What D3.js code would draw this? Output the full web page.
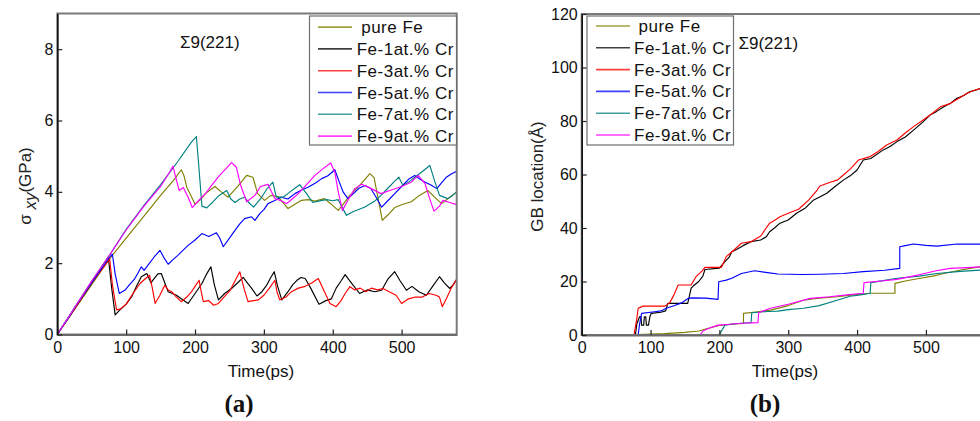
<!DOCTYPE html>
<html><head><meta charset="utf-8">
<script src="https://cdn.jsdelivr.net/npm/d3@7"></script>
<style>
body{margin:0;background:#fff;}
svg{display:block;font-family:"Liberation Sans",Arial,sans-serif;}
</style></head><body>
<svg id="chart" width="980" height="421"></svg>
<script>
// ---------- data ----------
const seriesNames = ["pure Fe","Fe-1at.% Cr","Fe-3at.% Cr","Fe-5at.% Cr","Fe-7at.% Cr","Fe-9at.% Cr"];
const seriesColors = ["#808000","#000000","#ff0000","#0000ff","#008080","#ff00ff"];
const timeTicks = [0,100,200,300,400,500];
const stressTicks = [0,2,4,6,8];
const gbTicks = [0,20,40,60,80,100,120];
const panelLabel = "\u03a39(221)";

// panel (a): shear stress (GPa) vs time (ps)
const stressPureFe = [[0,0],[25,0.7],[50,1.4],[75,2.1],[100,2.7],[125,3.3],[150,3.9],[170,4.35],[180,4.62],[184,4.45],[188,4.13],[194,3.9],[200,3.65],[208,3.78],[215,3.95],[229,4.15],[238,4.0],[248,3.85],[262,4.15],[275,4.46],[284,4.41],[291,3.95],[301,3.76],[310,3.9],[320,3.87],[328,3.7],[335,3.53],[345,3.65],[354,3.76],[365,3.78],[374,3.74],[388,3.81],[398,3.65],[408,3.48],[417,3.7],[425,3.9],[440,4.2],[454,4.51],[460,4.4],[466,3.8],[472,3.2],[480,3.35],[490,3.56],[502,3.65],[514,3.72],[526,3.9],[538,4.04],[548,3.85],[558,3.67],[570,3.85],[580,4.0]];
const stressFe1 = [[0,0],[25,0.72],[50,1.45],[74,2.18],[79,1.3],[84,0.55],[91,0.69],[100,0.85],[108,1.06],[115,1.35],[122,1.62],[130,1.71],[136,1.45],[140,1.55],[146,1.7],[151,1.71],[156,1.45],[161,1.2],[167,1.15],[173,1.1],[180,1.0],[190,0.87],[200,1.15],[210,1.43],[217,1.7],[223,1.9],[228,1.4],[234,0.97],[243,1.15],[253,1.29],[262,1.45],[270,1.6],[276,1.45],[282,1.3],[290,1.08],[297,1.2],[304,1.38],[310,1.6],[315,1.76],[320,1.35],[326,0.97],[335,1.2],[342,1.4],[348,1.52],[354,1.6],[360,1.57],[368,1.3],[380,0.85],[390,0.95],[398,1.0],[405,1.3],[412,1.5],[418,1.68],[427,1.45],[439,1.15],[450,1.25],[461,1.2],[471,1.24],[480,1.55],[490,1.76],[498,1.5],[507,1.24],[515,1.35],[525,1.2],[536,1.1],[545,1.35],[555,1.62],[562,1.45],[570,1.29],[575,1.4],[580,1.55]];
const stressFe3 = [[0,0],[25,0.72],[50,1.45],[76,2.12],[80,1.4],[86,0.69],[92,0.72],[100,0.85],[110,1.15],[120,1.43],[127,1.55],[134,1.66],[138,1.3],[142,0.87],[149,1.1],[156,1.38],[161,1.25],[166,1.2],[173,1.05],[180,0.92],[188,1.05],[195,1.2],[200,1.35],[206,1.52],[209,1.2],[212,0.92],[220,0.95],[227,0.82],[234,0.87],[242,1.05],[251,1.24],[258,1.5],[265,1.76],[271,1.3],[277,0.92],[285,0.95],[292,0.97],[300,1.1],[308,1.3],[316,1.52],[319,1.2],[323,0.97],[332,1.05],[340,1.2],[350,1.3],[360,1.35],[370,1.45],[379,1.57],[388,1.2],[396,0.87],[405,0.78],[412,0.95],[418,1.15],[425,1.34],[432,1.25],[440,1.3],[448,1.2],[456,1.3],[465,1.25],[473,1.29],[482,1.2],[492,1.1],[500,0.87],[510,1.0],[520,1.05],[530,1.05],[540,1.15],[550,1.1],[555,1.05],[559,0.78],[565,1.0],[572,1.3],[580,1.55]];
const stressFe5 = [[0,0],[10,0.3],[18,0.52],[25,0.75],[50,1.45],[75,2.15],[80,2.25],[84,1.7],[90,1.15],[98,1.24],[105,1.4],[112,1.55],[118,1.75],[122,1.9],[126,1.8],[132,1.95],[141,2.18],[149,2.36],[155,2.15],[161,1.97],[168,2.1],[175,2.22],[182,2.35],[190,2.5],[200,2.65],[210,2.83],[220,2.75],[231,2.85],[236,2.7],[241,2.46],[250,2.7],[258,2.92],[265,3.1],[272,3.25],[282,3.3],[287,3.2],[294,3.39],[300,3.5],[306,3.67],[315,3.75],[325,3.85],[335,3.8],[345,3.95],[355,4.05],[364,4.13],[375,4.25],[384,4.37],[393,4.45],[403,4.62],[409,4.3],[415,4.0],[422,3.81],[430,3.95],[438,4.1],[447,4.18],[455,4.1],[463,3.85],[471,3.57],[480,3.75],[490,3.95],[500,4.15],[510,4.35],[519,4.46],[527,4.35],[534,4.27],[542,4.2],[551,4.09],[558,4.25],[565,4.41],[572,4.5],[580,4.58]];
const stressFe7 = [[0,0],[25,0.75],[50,1.5],[75,2.2],[100,2.95],[125,3.6],[150,4.2],[175,4.85],[195,5.4],[202,5.55],[206,4.6],[210,3.6],[217,3.55],[225,3.7],[235,3.9],[246,4.04],[252,3.8],[258,3.7],[265,3.8],[272,3.85],[278,3.7],[285,3.57],[295,3.8],[305,4.1],[313,4.27],[318,3.85],[328,3.85],[338,4.0],[347,4.13],[352,4.2],[362,3.95],[371,3.7],[384,3.76],[391,3.78],[400,3.75],[408,3.78],[414,3.55],[420,3.34],[430,3.45],[446,3.57],[461,3.74],[470,3.9],[480,4.1],[490,4.3],[496,4.41],[502,4.18],[512,4.3],[522,4.45],[532,4.6],[541,4.74],[548,4.3],[555,3.9],[567,3.81],[574,3.9],[580,4.0]];
const stressFe9 = [[0,0],[25,0.75],[50,1.5],[75,2.2],[100,2.93],[125,3.58],[150,4.15],[163,4.55],[168,4.72],[172,4.4],[177,4.04],[183,4.12],[190,3.85],[196,3.56],[205,3.75],[215,3.95],[225,4.2],[235,4.45],[245,4.65],[253,4.82],[260,4.69],[266,4.2],[275,3.72],[287,3.9],[295,4.15],[306,4.21],[311,4.0],[316,3.81],[325,3.75],[333,3.67],[341,3.8],[350,3.95],[362,4.2],[374,4.46],[386,4.65],[397,4.81],[403,4.55],[408,4.0],[414,3.48],[423,3.8],[432,4.09],[442,4.21],[456,4.09],[470,3.95],[485,4.05],[500,4.15],[514,4.27],[524,4.46],[534,4.23],[540,3.85],[547,3.46],[555,3.6],[560,3.76],[570,3.7],[580,3.64]];

// panel (b): GB location (Å) vs time (ps)
const gbPureFe = [[0,0],[40,0],[80,0.2],[120,0.5],[150,1.0],[170,1.5],[198,3.5],[215,4.0],[235,4.3],[235,8.1],[256,8.7],[274,9.3],[300,11],[322,13],[345,13.8],[371,14.3],[395,15],[419,15.6],[455,15.6],[455,19.3],[470,20.2],[492,21.2],[510,22],[526,23],[545,24],[564,24.9],[580,25.5]];
const gbFe1 = [[0,0],[78,0],[80,4],[84,6.8],[86,6.8],[87,3.7],[90,3.7],[91,6.8],[93,6.8],[94,3.7],[97,3.7],[99,6.8],[101,8.1],[115,8.5],[122,9],[125,11.8],[154,11.8],[159,17.5],[162,18.3],[170,20],[176,22],[179,24.5],[200,25],[208,27.4],[214,29],[218,31.1],[225,32],[235,33.5],[246,34.9],[260,35.5],[268,36.7],[273,38.6],[280,40],[288,41.8],[300,43],[312,45.5],[325,47.5],[337,50.5],[345,51.5],[356,53],[368,55.5],[380,57.9],[390,59.5],[400,61.7],[409,65.4],[420,66],[438,69.2],[448,70.5],[458,72.3],[470,74],[482,76.6],[495,79.5],[506,82.2],[515,83.5],[526,85.3],[535,86.5],[545,88.5],[555,89.5],[564,91],[572,91.5],[580,92.2]];
const gbFe3 = [[0,0],[76,0],[80,6],[82,10],[89,10.8],[121,10.8],[128,12.1],[134,15],[140,18.7],[159,18.7],[166,21.8],[175,24],[179,25.3],[203,25.3],[210,29.3],[220,31.5],[232,34.3],[246,34.9],[260,37],[268,40],[273,41.8],[281,43],[288,44.2],[300,45.5],[315,47],[330,50.5],[342,54.2],[346,55.7],[360,57],[372,58],[380,59.8],[390,62],[402,65.4],[419,66.7],[430,68.5],[443,71],[458,72.9],[470,75.5],[482,77.9],[496,80.4],[510,83],[521,85.3],[535,86.5],[548,88.5],[560,90.4],[570,91.5],[580,92.2]];
const gbFe5 = [[0,0],[82,0],[84,4],[87,8.1],[106,8.7],[115,9],[123,10],[135,11],[145,12],[155,13.7],[160,13.9],[180,13.8],[198,13.3],[199,19.9],[210,20.5],[218,21.2],[232,23],[251,24],[270,23.3],[285,22.8],[320,22.6],[346,22.7],[380,23],[409,23.7],[440,24.2],[462,24.9],[462,33],[470,33.4],[482,34],[500,33.5],[516,33.2],[545,34],[580,34]];
const gbFe7 = [[0,0],[200,0],[203,1.5],[208,3.7],[220,4.1],[232,4.4],[246,4.6],[247,8.3],[270,8.8],[285,8.9],[300,9.5],[322,10],[345,11],[371,13],[390,14.5],[405,15],[419,15.6],[420,19.6],[440,20.4],[458,21.2],[490,22],[516,23],[550,23.8],[580,24.3]];
const gbFe9 = [[0,0],[172,0],[176,1.5],[185,2.5],[198,3.7],[215,4],[232,4.4],[256,4.6],[257,8.3],[274,10],[300,11.5],[332,13.7],[360,14.3],[385,15],[409,15.6],[410,19.6],[435,20.2],[458,20.8],[490,22.5],[515,24],[535,24.9],[560,25.2],[580,25.5]];

const stressSeries = [stressPureFe, stressFe1, stressFe3, stressFe5, stressFe7, stressFe9];
const gbSeries = [gbPureFe, gbFe1, gbFe3, gbFe5, gbFe7, gbFe9];

// ---------- drawing ----------
const svg = d3.select("#chart");

function drawPanel(cfg) {
  const x = d3.scaleLinear().domain([0, 580]).range([cfg.left, cfg.right]);
  const y = d3.scaleLinear().domain(cfg.yDomain).range([cfg.bottom, cfg.top]);
  const g = svg.append("g");

  const clipId = "clip" + cfg.id;
  g.append("clipPath").attr("id", clipId).append("rect")
    .attr("x", cfg.left).attr("y", cfg.top)
    .attr("width", cfg.right - cfg.left).attr("height", cfg.bottom - cfg.top);

  const line = d3.line().x(d => x(d[0])).y(d => y(d[1]));
  const lines = g.append("g").attr("clip-path", `url(#${clipId})`);
  cfg.series.forEach((s, i) => {
    lines.append("path").datum(s).attr("d", line)
      .attr("fill", "none").attr("stroke", seriesColors[i])
      .attr("stroke-width", 1.15).attr("stroke-linejoin", "round");
  });

  // frame (top/right) gray
  g.append("rect").attr("x", cfg.left).attr("y", cfg.top)
    .attr("width", cfg.right - cfg.left).attr("height", cfg.bottom - cfg.top)
    .attr("fill", "none").attr("stroke", "#7a7a7a").attr("stroke-width", 2);

  // bottom axis
  const xa = g.append("g").attr("transform", `translate(0,${cfg.bottom})`)
    .call(d3.axisBottom(x).tickValues(timeTicks).tickSizeInner(-5).tickSizeOuter(0).tickPadding(7));
  xa.select(".domain").attr("stroke", "#6a6a6a").attr("stroke-width", 2);
  xa.selectAll(".tick line").attr("stroke", "#222").attr("stroke-width", 1.2);
  xa.selectAll(".tick text").attr("font-size", 16).attr("fill", "#111")
    .attr("font-family", "'Liberation Sans',Arial,sans-serif");

  // left axis
  const ya = g.append("g").attr("transform", `translate(${cfg.left},0)`)
    .call(d3.axisLeft(y).tickValues(cfg.yTicks).tickSizeInner(-5).tickSizeOuter(0).tickPadding(4));
  ya.select(".domain").attr("stroke", "#111").attr("stroke-width", 1.6);
  ya.selectAll(".tick line").attr("stroke", "#222").attr("stroke-width", 1.2);
  ya.selectAll(".tick text").attr("font-size", 16).attr("fill", "#111")
    .attr("font-family", "'Liberation Sans',Arial,sans-serif");

  // x title
  g.append("text").attr("x", cfg.xTitleX).attr("y", 377)
    .attr("text-anchor", "middle").attr("font-size", 17).attr("fill", "#111")
    .text("Time(ps)");

  // y title
  const yt = g.append("text")
    .attr("transform", `translate(${cfg.yTitleX},${cfg.yTitleY}) rotate(-90)`)
    .attr("text-anchor", "middle").attr("font-size", 17).attr("fill", "#222");
  cfg.yTitle(yt);

  // sigma label
  g.append("text").attr("x", cfg.sigmaX).attr("y", cfg.sigmaY)
    .attr("font-size", 17).attr("fill", "#111").text(panelLabel);

  // legend
  const lg = g.append("g");
  lg.append("rect").attr("x", cfg.legX).attr("y", 16)
    .attr("width", cfg.legW).attr("height", 129)
    .attr("fill", "#fff").attr("stroke", "#6f6f6f").attr("stroke-width", 1.2);
  seriesNames.forEach((n, i) => {
    const cy = cfg.legY0 + i * 21.8;
    lg.append("line").attr("x1", cfg.legLineX).attr("x2", cfg.legLineX + 34)
      .attr("y1", cy).attr("y2", cy)
      .attr("stroke", seriesColors[i]).attr("stroke-width", 1.6).attr("stroke-opacity", 0.75);
    lg.append("text").attr("x", cfg.legTextX + (i === 0 ? 4.5 : 0)).attr("y", cy + 6)
      .attr("font-size", 17).attr("letter-spacing", 0.5).attr("fill", "#111").text(n);
  });

  // panel letter
  svg.append("text").attr("x", cfg.letterX).attr("y", 412)
    .attr("text-anchor", "middle").attr("font-family", "'Liberation Serif','Times New Roman',serif")
    .attr("font-weight", "bold").attr("font-size", 25).attr("fill", "#111")
    .text(cfg.letter);
}

drawPanel({
  id: "a", left: 57.3, right: 456.7, top: 13.5, bottom: 334.5,
  yDomain: [0, 9], yTicks: stressTicks, series: stressSeries,
  xTitleX: 261, yTitleX: 31, yTitleY: 186,
  yTitle: t => {
    t.append("tspan").text("\u03c3 ");
    t.append("tspan").attr("font-style", "italic").attr("dy", 5).text("xy");
    t.append("tspan").attr("dy", -5).text("(GPa)");
  },
  sigmaX: 180, sigmaY: 47.5,
  legX: 309.5, legW: 147, legY0: 27.1, legLineX: 318, legTextX: 356.7,
  letterX: 239, letter: "(a)"
});

drawPanel({
  id: "b", left: 581.7, right: 981, top: 14, bottom: 335,
  yDomain: [0, 120], yTicks: gbTicks, series: gbSeries,
  xTitleX: 785, yTitleX: 542.5, yTitleY: 176.5,
  yTitle: t => { t.text("GB location(\u00c5)"); },
  sigmaX: 738.5, sigmaY: 49,
  legX: 587, legW: 146.5, legY0: 26, legLineX: 596, legTextX: 634,
  letterX: 765, letter: "(b)"
});
</script>
</body></html>
